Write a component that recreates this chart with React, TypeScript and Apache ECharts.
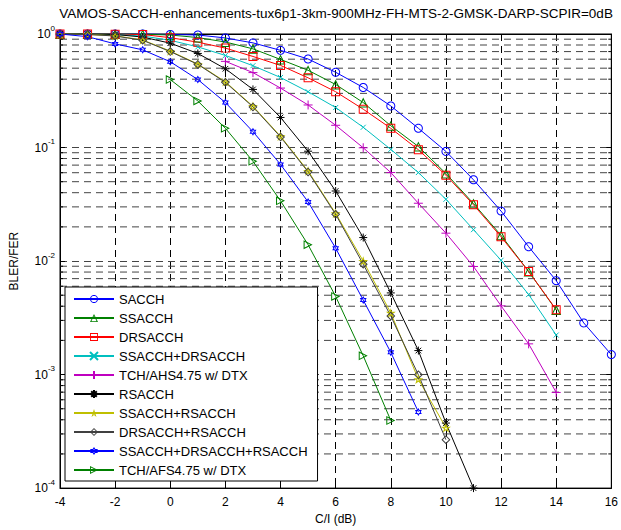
import React, { useEffect, useRef } from 'react';
import * as echarts from 'echarts';

const FONT = '"Liberation Sans", Arial, Helvetica, sans-serif';
const TITLE = 'VAMOS-SACCH-enhancements-tux6p1-3km-900MHz-FH-MTS-2-GMSK-DARP-SCPIR=0dB';

const xTicks = [-4, -2, 0, 2, 4, 6, 8, 10, 12, 14, 16];

const xSACCH = [-4, -3, -2, -1, 0, 1, 2, 3, 4, 5, 6, 7, 8, 9, 10, 11, 12, 13, 14, 15, 16];
const ySACCH = [1.0, 1.0, 1.0, 1.0, 0.99, 0.98, 0.923, 0.835, 0.718, 0.602, 0.46, 0.338, 0.2325, 0.1477, 0.0924, 0.052, 0.02755, 0.01338, 0.00672, 0.00285, 0.0015];

const xSSACCH = [-4, -3, -2, -1, 0, 1, 2, 3, 4, 5, 6, 7, 8, 9, 10, 11, 12, 13, 14];
const ySSACCH = [1.0, 1.0, 1.0, 0.995, 0.98, 0.93, 0.85, 0.74, 0.597, 0.479, 0.359, 0.249, 0.1556, 0.1021, 0.059, 0.0321, 0.01685, 0.0081, 0.0037];

const xDRSACCH = [-4, -3, -2, -1, 0, 1, 2, 3, 4, 5, 6, 7, 8, 9, 10, 11, 12, 13, 14];
const yDRSACCH = [1.0, 1.0, 0.995, 0.99, 0.928, 0.847, 0.751, 0.634, 0.529, 0.411, 0.31, 0.2176, 0.1477, 0.0956, 0.0571, 0.0313, 0.01635, 0.0081, 0.00373];

const xSSDR = [-4, -3, -2, -1, 0, 1, 2, 3, 4, 5, 6, 7, 8, 9, 10, 11, 12, 13, 14];
const ySSDR = [1.0, 1.0, 0.99, 0.96, 0.88, 0.77, 0.647, 0.526, 0.414, 0.31, 0.225, 0.1508, 0.0962, 0.0602, 0.035, 0.0189, 0.01016, 0.00507, 0.00223];

const xAHS = [2, 3, 4, 5, 6, 7, 8, 9, 10, 11, 12, 13, 14];
const yAHS = [0.574, 0.457, 0.334, 0.237, 0.157, 0.0995, 0.0602, 0.0323, 0.0176, 0.00896, 0.00403, 0.001865, 0.000696];

const xRSACCH = [-4, -3, -2, -1, 0, 1, 2, 3, 4, 5, 6, 7, 8, 9, 10, 11];
const yRSACCH = [1.0, 1.0, 0.99, 0.94, 0.83, 0.674, 0.494, 0.325, 0.184, 0.0928, 0.0414, 0.0161, 0.00524, 0.001627, 0.000374, 0.0001];

const xSSR = [-4, -3, -2, -1, 0, 1, 2, 3, 4, 5, 6, 7, 8, 9, 10];
const ySSR = [1.0, 0.99, 0.965, 0.887, 0.707, 0.544, 0.3795, 0.231, 0.1258, 0.0621, 0.0263, 0.01, 0.00349, 0.000909, 0.00034];

const xDRR = [-4, -3, -2, -1, 0, 1, 2, 3, 4, 5, 6, 7, 8, 9, 10];
const yDRR = [1.0, 0.99, 0.96, 0.88, 0.7, 0.54, 0.375, 0.228, 0.124, 0.061, 0.0258, 0.00938, 0.00328, 0.000995, 0.000267];

const xSSDRR = [-4, -3, -2, -1, 0, 1, 2, 3, 4, 5, 6, 7, 8, 9];
const ySSDRR = [1.0, 0.947, 0.818, 0.725, 0.57, 0.397, 0.249, 0.138, 0.071, 0.0332, 0.01298, 0.00453, 0.00157, 0.000469];

const xAFS = [0, 1, 2, 3, 4, 5, 6, 7, 8];
const yAFS = [0.397, 0.257, 0.1477, 0.0756, 0.0339, 0.01392, 0.00488, 0.001463, 0.000394];

const minorMantissas = [2, 3, 4, 5, 6, 7, 8, 9];
const decades = [-4, -3, -2, -1];

// stroke-only marker shapes
const SYM_X = 'path://M0,0L10,10M10,0L0,10';
const SYM_PLUS = 'path://M5,0L5,10M0,5L10,5';
const SYM_STAR = 'path://M5,0L5,10M0,5L10,5M1.5,1.5L8.5,8.5M8.5,1.5L1.5,8.5';

// hollow marker shapes as filled rings (outer polygon + reversed inner polygon)
function ring(pts: number[][], c: number[], k: number): string {
  const f = (p: number[]) => p[0].toFixed(2) + ',' + p[1].toFixed(2);
  const outer = 'M' + pts.map(f).join('L') + 'Z';
  const inner = pts.map((p) => [c[0] + (p[0] - c[0]) * k, c[1] + (p[1] - c[1]) * k]).reverse();
  return 'path://' + outer + 'M' + inner.map(f).join('L') + 'Z';
}
function starPts(n: number, rOut: number, rIn: number): number[][] {
  const pts: number[][] = [];
  for (let i = 0; i < 2 * n; i++) {
    const r = i % 2 === 0 ? rOut : rIn;
    const a = -Math.PI / 2 + (i * Math.PI) / n;
    pts.push([50 + r * Math.cos(a), 50 + r * Math.sin(a)]);
  }
  return pts;
}
function circlePts(): number[][] {
  const pts: number[][] = [];
  for (let i = 0; i < 36; i++) {
    const a = (i * Math.PI * 2) / 36;
    pts.push([50 + 50 * Math.cos(a), 50 + 50 * Math.sin(a)]);
  }
  return pts;
}
const SYM_CIRCLE = ring(circlePts(), [50, 50], 0.78);
const SYM_TRI = ring([[50, 0], [100, 100], [0, 100]], [50, 69.1], 0.66);
const SYM_RECT = ring([[0, 0], [100, 0], [100, 100], [0, 100]], [50, 50], 0.78);
const SYM_DIAMOND = ring([[50, 0], [100, 50], [50, 100], [0, 50]], [50, 50], 0.68);
const SYM_PENT = ring(starPts(5, 50, 19.1), [50, 50], 0.35);
const SYM_HEX = ring(starPts(6, 50, 28.87), [50, 50], 0.5);
const SYM_RTRI = ring([[0, 0], [100, 50], [0, 100]], [30.9, 50], 0.64);

function mk(name: string, xs: number[], ys: number[], color: string, symbol: string, size: number, stroked: boolean) {
  return {
    name,
    type: 'line',
    data: xs.map((x, i) => [x, ys[i]]),
    symbol,
    symbolSize: size,
    symbolKeepAspect: true,
    showSymbol: true,
    showAllSymbol: true,
    clip: false,
    z: 3,
    silent: true,
    lineStyle: { color, width: 1 },
    itemStyle: { color, borderColor: color, borderWidth: stroked ? 1 : 0 },
    emphasis: { disabled: true },
  };
}

export default function App() {
  const ref = useRef<HTMLDivElement>(null);
  useEffect(() => {
    if (!ref.current) return;
    const chart = echarts.init(ref.current, null, { renderer: 'svg' });
    const minorData: number[][] = [];
    decades.forEach((e) => minorMantissas.forEach((m) => minorData.push([-4, m * Math.pow(10, e)])));

    const names = ['SACCH', 'SSACCH', 'DRSACCH', 'SSACCH+DRSACCH', 'TCH/AHS4.75 w/ DTX', 'RSACCH', 'SSACCH+RSACCH', 'DRSACCH+RSACCH', 'SSACCH+DRSACCH+RSACCH', 'TCH/AFS4.75 w/ DTX'];

    const option: any = {
      animation: false,
      backgroundColor: '#fff',
      textStyle: { fontFamily: FONT },
      grid: { left: 56, top: 34, right: 8, bottom: 37, containLabel: false, show: true, borderColor: '#000', borderWidth: 1, backgroundColor: 'transparent' },
      graphic: [
        {
          type: 'text', x: 336, y: 13, z: 10,
          style: { text: TITLE, fontSize: 13.5, fontFamily: FONT, fill: '#000', align: 'center', verticalAlign: 'middle' },
        },
      ],
      legend: {
        data: names,
        orient: 'vertical',
        left: 65,
        top: 287,
        itemWidth: 40,
        itemHeight: 10,
        itemGap: 5,
        padding: [5, 10, 4, 8],
        backgroundColor: '#fff',
        borderColor: '#000',
        borderWidth: 1,
        borderRadius: 0,
        selectedMode: false,
        z: 20,
        textStyle: { fontSize: 13, fontFamily: FONT, color: '#000', lineHeight: 14 },
      },
      xAxis: [
        {
          type: 'value', min: -4, max: 16, interval: 2,
          name: 'C/I (dB)', nameLocation: 'middle', nameGap: 21,
          nameTextStyle: { fontSize: 12, fontFamily: FONT, color: '#000' },
          axisLine: { show: true, onZero: false, lineStyle: { color: '#000', width: 1 } },
          axisTick: { show: true, inside: true, length: 5, lineStyle: { color: '#000' } },
          axisLabel: { fontSize: 12, fontFamily: FONT, color: '#000', margin: 8, formatter: (v: number) => (xTicks.includes(v) ? String(v) : '') },
          splitLine: { show: true, lineStyle: { color: '#000', width: 1, type: [7, 5] } },
        },
        {
          type: 'value', min: -4, max: 16, interval: 2, position: 'top',
          axisLine: { show: true, onZero: false, lineStyle: { color: '#000', width: 1 } },
          axisTick: { show: true, inside: true, length: 5, lineStyle: { color: '#000' } },
          axisLabel: { show: false },
          splitLine: { show: false },
        },
      ],
      yAxis: [
        {
          type: 'log', logBase: 10, min: 1e-4, max: 1, splitNumber: 4,
          name: 'BLER/FER', nameLocation: 'middle', nameGap: 40, nameRotate: 90,
          nameTextStyle: { fontSize: 12, fontFamily: FONT, color: '#000' },
          axisLine: { show: true, onZero: false, lineStyle: { color: '#000', width: 1 } },
          axisTick: { show: true, inside: true, length: 5, lineStyle: { color: '#000' } },
          axisLabel: {
            color: '#000', margin: 5,
            formatter: (v: number) => '{a|10}{b|' + Math.round(Math.log10(v)) + '}',
            rich: {
              a: { fontSize: 12, fontFamily: FONT, color: '#000', lineHeight: 20 },
              b: { fontSize: 8, fontFamily: FONT, color: '#000', lineHeight: 10, verticalAlign: 'top' },
            },
          },
          splitLine: { show: true, lineStyle: { color: '#444', width: 1, type: [7, 5] } },
        },
        {
          type: 'log', logBase: 10, min: 1e-4, max: 1, splitNumber: 4, position: 'right',
          axisLine: { show: true, onZero: false, lineStyle: { color: '#000', width: 1 } },
          axisTick: { show: true, inside: true, length: 5, lineStyle: { color: '#000' } },
          axisLabel: { show: false },
          splitLine: { show: false },
        },
      ],
      series: [
        {
          type: 'custom',
          name: 'minorgrid',
          silent: true,
          z: 1,
          clip: false,
          data: minorData,
          encode: { x: 0, y: 1 },
          renderItem: (params: any, api: any) => {
            const v = api.value(1);
            const a = api.coord([-4, v]);
            const b = api.coord([16, v]);
            return {
              type: 'group',
              children: [
                { type: 'line', shape: { x1: a[0], y1: a[1], x2: b[0], y2: b[1] }, style: { stroke: '#444', lineWidth: 1, lineDash: [7, 5] } },
                { type: 'line', shape: { x1: a[0], y1: a[1], x2: a[0] + 3, y2: a[1] }, style: { stroke: '#000', lineWidth: 1 } },
                { type: 'line', shape: { x1: b[0] - 3, y1: b[1], x2: b[0], y2: b[1] }, style: { stroke: '#000', lineWidth: 1 } },
              ],
            };
          },
        },
        mk('SACCH', xSACCH, ySACCH, '#0000ff', SYM_CIRCLE, 9, false),
        mk('SSACCH', xSSACCH, ySSACCH, '#008000', SYM_TRI, 10, false),
        mk('DRSACCH', xDRSACCH, yDRSACCH, '#ff0000', SYM_RECT, 9, false),
        mk('SSACCH+DRSACCH', xSSDR, ySSDR, '#00bfbf', SYM_X, 5, true),
        mk('TCH/AHS4.75 w/ DTX', xAHS, yAHS, '#bf00bf', SYM_PLUS, 9, true),
        mk('RSACCH', xRSACCH, yRSACCH, '#000000', SYM_STAR, 8, true),
        mk('SSACCH+RSACCH', xSSR, ySSR, '#bfbf00', SYM_PENT, 10, false),
        mk('DRSACCH+RSACCH', xDRR, yDRR, '#404040', SYM_DIAMOND, 9, false),
        mk('SSACCH+DRSACCH+RSACCH', xSSDRR, ySSDRR, '#0000ff', SYM_HEX, 8, false),
        mk('TCH/AFS4.75 w/ DTX', xAFS, yAFS, '#008000', SYM_RTRI, 9, false),
      ],
    };
    chart.setOption(option);
    return () => chart.dispose();
  }, []);
  return <div ref={ref} style={{ position: 'fixed', left: 0, top: 0, width: 621, height: 530 }} />;
}
